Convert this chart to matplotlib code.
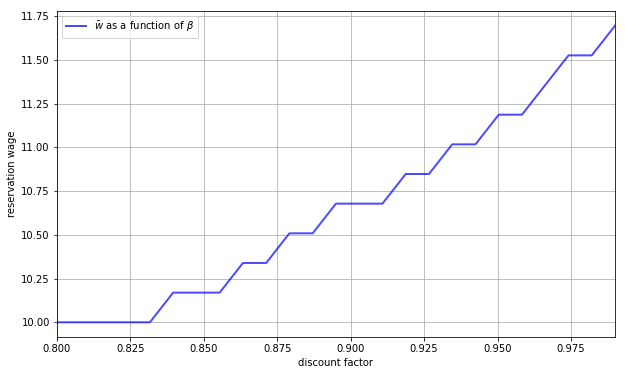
import matplotlib
matplotlib.use("Agg")
import matplotlib.pyplot as plt
import numpy as np

# discount factor grid (25 points from 0.80 to 0.99)
beta_min, beta_max, n_beta = 0.80, 0.99, 25
# step index of the reservation wage on the wage grid
w_step = [0, 0, 0, 0, 0, 1, 1, 1, 2, 2, 3, 3, 4, 4, 4, 5, 5, 6, 6, 7, 7, 8, 9, 9, 10]
# wage grid spacing: np.linspace(10, 20, 60)
w_min, w_max, n_w = 10, 20, 60

beta_vals = np.linspace(beta_min, beta_max, n_beta)
w_grid = np.linspace(w_min, w_max, n_w)
w_bar_vals = w_grid[w_step]

fig, ax = plt.subplots(figsize=(625 / 72, 375 / 72), dpi=72)
fig.subplots_adjust(left=0.091, right=0.984, top=0.971, bottom=0.101)

ax.plot(beta_vals, w_bar_vals, 'b-', lw=2, alpha=0.7,
        label=r'$\bar w$ as a function of $\beta$')
ax.set_xlabel('discount factor')
ax.set_ylabel('reservation wage')
ax.set_xlim(beta_min, beta_max)
ax.legend(loc='upper left')
ax.grid()

fig.savefig('out.png')
